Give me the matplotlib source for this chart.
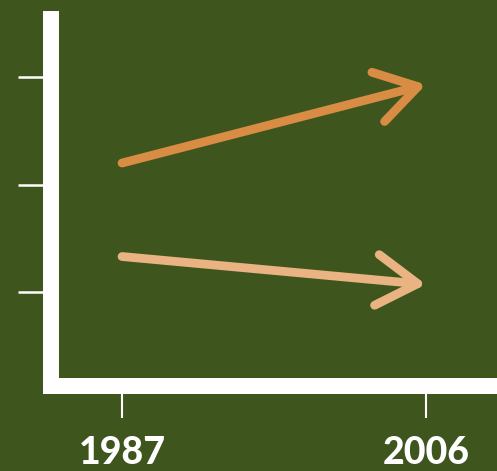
import matplotlib
matplotlib.use("Agg")
import matplotlib.pyplot as plt

years = [1987, 2006]
series_a = [2.2, 2.93]   # orange, rising
series_b = [1.33, 1.07]  # light orange, falling
ytick_vals = [1, 2, 3]
colors = ["#d98c44", "#e9b482"]

bg = "#3e561e"
fig = plt.figure(figsize=(4.97, 4.71), dpi=100, facecolor=bg)
ax = fig.add_axes([51/497, (471-385.5)/471, 1 - 51/497, (385.5-19)/471])
ax.set_facecolor(bg)

ax.set_xlim(1982.56, 2010.44)
ax.set_ylim(0.13, 3.54)

for s in ["top", "right"]:
    ax.spines[s].set_visible(False)
for s in ["left", "bottom"]:
    ax.spines[s].set_color("white")
    ax.spines[s].set_linewidth(11.5)
    ax.spines[s].set_capstyle("projecting")

ax.set_xticks(years)
ax.set_xticklabels([str(y) for y in years], fontfamily="Lato", fontweight="black",
                   fontsize=27, color="white")
ax.set_yticks(ytick_vals)
ax.set_yticklabels([])
ax.tick_params(axis="x", length=22.7, width=1.5, color="white", pad=14)
ax.tick_params(axis="y", length=23.8, width=1.8, color="white")

for vals, c in zip([series_a, series_b], colors):
    ax.annotate("", xy=(years[1], vals[1]), xytext=(years[0], vals[0]),
                arrowprops=dict(arrowstyle="->,head_length=29.5,head_width=18.3",
                                mutation_scale=1, lw=6.3, color=c,
                                capstyle="round", joinstyle="round",
                                shrinkA=0, shrinkB=0))

fig.savefig("out.png", dpi=100, facecolor=bg)
